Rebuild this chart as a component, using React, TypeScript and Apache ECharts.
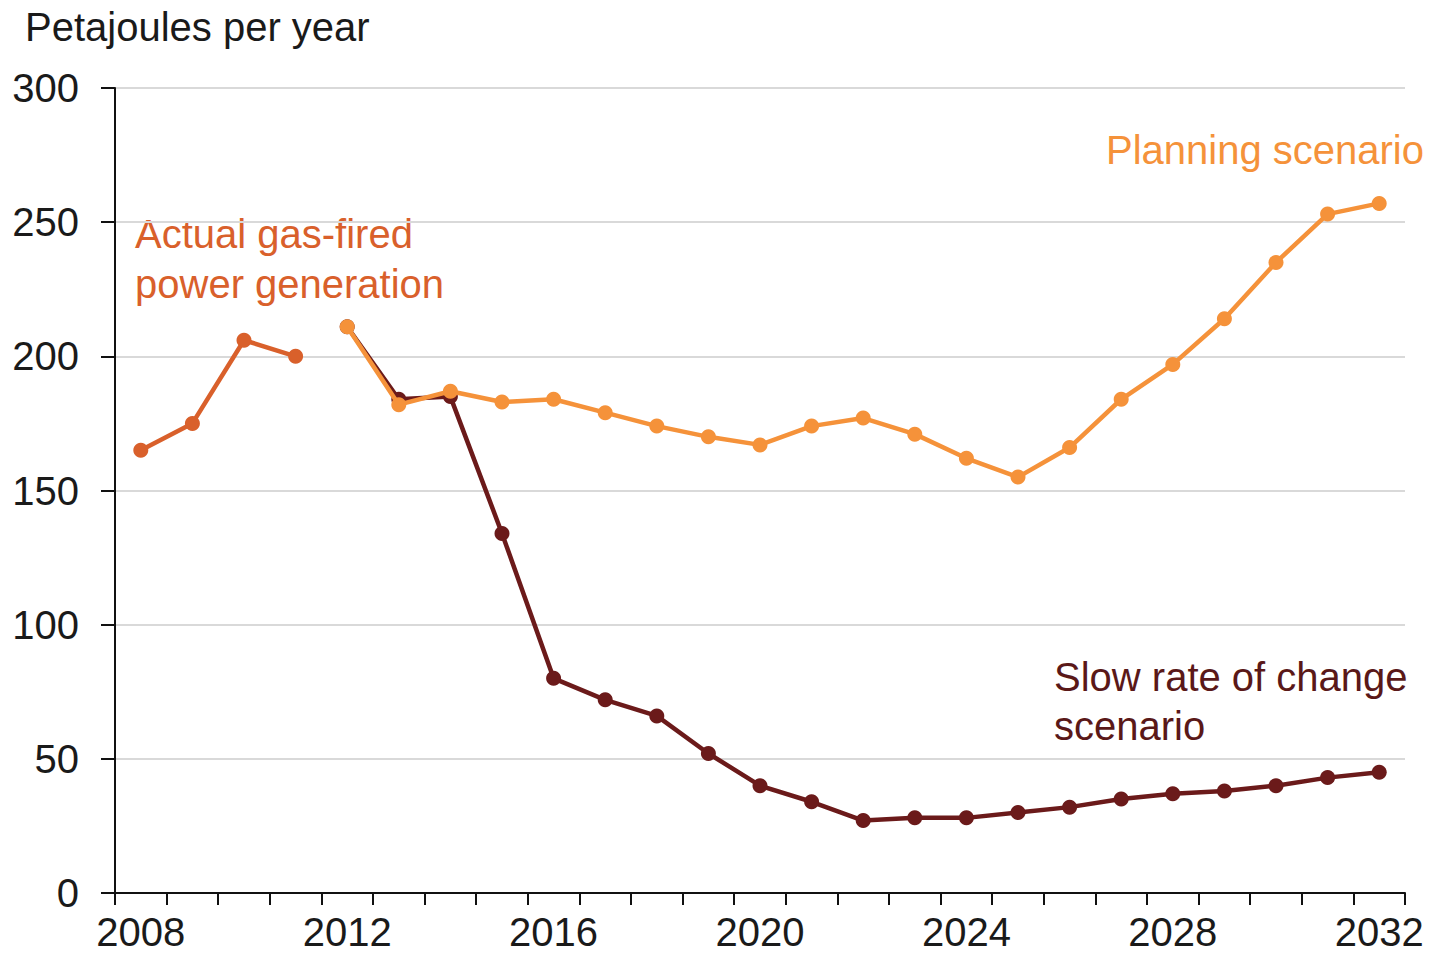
import React, { useEffect, useRef } from "react";
import * as echarts from "echarts";

const years = [
  "2008", "2009", "2010", "2011", "2012", "2013", "2014", "2015", "2016", "2017",
  "2018", "2019", "2020", "2021", "2022", "2023", "2024", "2025", "2026", "2027",
  "2028", "2029", "2030", "2031", "2032",
];
const actual = [165, 175, 206, 200, null, null, null, null, null, null, null, null, null,
  null, null, null, null, null, null, null, null, null, null, null, null];
const planning = [null, null, null, null, 211, 182, 187, 183, 184, 179, 174, 170, 167, 174,
  177, 171, 162, 155, 166, 184, 197, 214, 235, 253, 257];
const slow = [null, null, null, null, 211, 184, 185, 134, 80, 72, 66, 52, 40, 34, 27, 28,
  28, 30, 32, 35, 37, 38, 40, 43, 45];

const C_ACTUAL = "#D9602B";
const C_PLAN = "#F5923A";
const C_SLOW = "#6B1A1A";
const FONT = "'Liberation Sans', Arial, sans-serif";
const FS = 40;

export default function App() {
  const ref = useRef<HTMLDivElement>(null);
  useEffect(() => {
    const chart = echarts.init(ref.current!, undefined, { renderer: "svg" });
    const txt = (fill: string) => ({ fill, fontSize: FS, fontFamily: FONT });
    chart.setOption({
      animation: false,
      grid: { left: 115, right: 25, top: 88, bottom: 64 },
      xAxis: {
        type: "category",
        data: years,
        boundaryGap: true,
        axisLine: { lineStyle: { color: "#111", width: 2 } },
        axisTick: { show: true, interval: 0, alignWithLabel: false, length: 12, lineStyle: { color: "#111", width: 2 } },
        axisLabel: { interval: 3, margin: 19, color: "#1a1a1a", fontSize: FS, fontFamily: FONT, lineHeight: 40 },
        splitLine: { show: false },
      },
      yAxis: {
        type: "value",
        min: 0,
        max: 300,
        interval: 50,
        axisLine: { show: true, lineStyle: { color: "#111", width: 2 } },
        axisTick: { show: true, length: 14, lineStyle: { color: "#111", width: 2 } },
        axisLabel: { margin: 36, color: "#1a1a1a", fontSize: FS, fontFamily: FONT },
        splitLine: { lineStyle: { color: "#d9d9d9", width: 2 } },
      },
      series: [
        {
          type: "line", data: slow, z: 2, symbol: "circle", symbolSize: 15,
          lineStyle: { color: C_SLOW, width: 4.5 }, itemStyle: { color: C_SLOW },
        },
        {
          type: "line", data: planning, z: 3, symbol: "circle", symbolSize: 15,
          lineStyle: { color: C_PLAN, width: 4.5 }, itemStyle: { color: C_PLAN },
        },
        {
          type: "line", data: actual, z: 3, symbol: "circle", symbolSize: 15,
          lineStyle: { color: C_ACTUAL, width: 4.5 }, itemStyle: { color: C_ACTUAL },
        },
      ],
      graphic: [
        { type: "text", left: 25, top: 7, style: { text: "Petajoules per year", ...txt("#1a1a1a") } },
        { type: "text", left: 135, top: 214, style: { text: "Actual gas-fired", ...txt(C_ACTUAL) } },
        { type: "text", left: 135, top: 264, style: { text: "power generation", ...txt(C_ACTUAL) } },
        { type: "text", left: 1106, top: 130, style: { text: "Planning scenario", ...txt(C_PLAN) } },
        { type: "text", left: 1054, top: 657, style: { text: "Slow rate of change", ...txt("#5A1818") } },
        { type: "text", left: 1054, top: 706, style: { text: "scenario", ...txt("#5A1818") } },
      ],
    });
    return () => chart.dispose();
  }, []);
  return <div ref={ref} style={{ width: 1430, height: 957, position: "absolute", left: 0, top: 0 }} />;
}
